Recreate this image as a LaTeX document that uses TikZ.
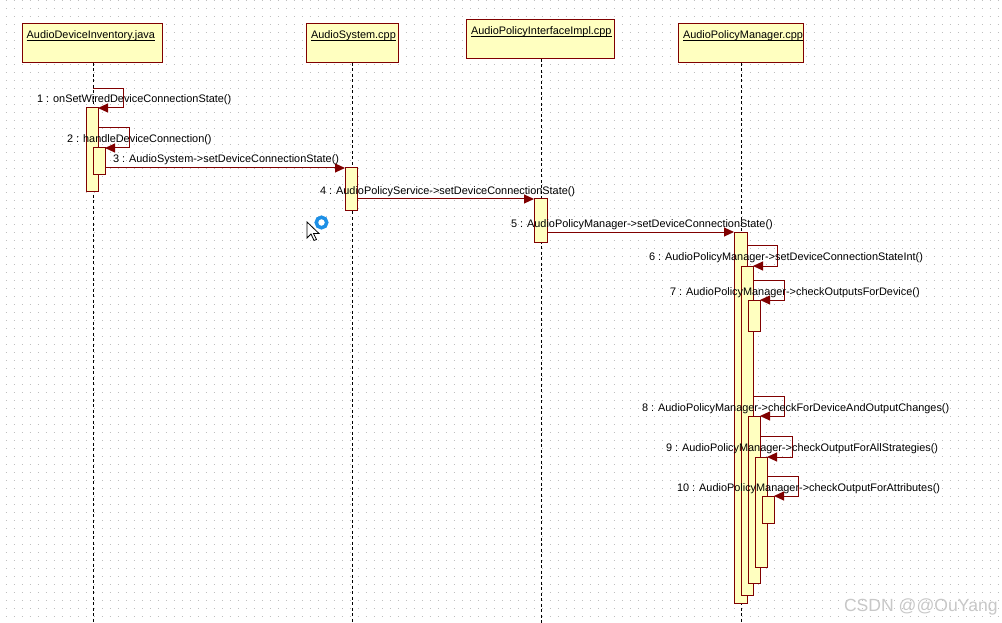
\documentclass[tikz,border=0pt]{standalone}
\usepackage{fontspec}
\setmainfont{Liberation Sans}
\usetikzlibrary{arrows.meta}
\definecolor{dred}{HTML}{800000}
\definecolor{pyel}{HTML}{FFFFC0}
\definecolor{gdot}{HTML}{BEBEBE}
\definecolor{ring}{RGB}{30,144,230}
\definecolor{wmark}{HTML}{C8C8C8}
\begin{document}
\begin{tikzpicture}[x=1pt,y=-1pt,
  every node/.style={inner sep=0pt,outer sep=0pt,font=\fontsize{10.9}{13}\selectfont},
  obj/.style={draw=dred,fill=pyel,line width=1pt,anchor=north west},
  actbar/.style={draw=dred,fill=pyel,line width=1pt,anchor=north west,minimum width=12pt},
  life/.style={black,line width=1pt,dash pattern=on 3pt off 2.5pt},
  msg/.style={dred,line width=1pt,-{Triangle[length=10pt,width=9pt]}},
  lbl/.style={anchor=base west,text=black},
  ttl/.style={anchor=base west,text=black},
  uline/.style={black,line width=0.8pt}]
\useasboundingbox (0,0) rectangle (1002,623);
\fill[white] (0,0) rectangle (1002,623);
% dotted grid
\foreach \k in {0,...,77}{
  \draw[gdot,line width=1pt,dash pattern=on 1pt off 7pt] (5.8,{0.7+8*\k}) -- (1002,{0.7+8*\k});
}
% object boxes
\node[obj,minimum width=140pt,minimum height=39pt] (o1) at (22,24) {};
\node[obj,minimum width=92pt,minimum height=39pt] (o2) at (306,24) {};
\node[obj,minimum width=148pt,minimum height=39pt] (o3) at (466,20) {};
\node[obj,minimum width=125pt,minimum height=39pt] (o4) at (678,24) {};
\node[ttl] (t1) at (26.7,39) {AudioDeviceInventory.java};
\node[ttl] (t2) at (311,39) {AudioSystem.cpp};
\node[ttl] (t3) at (471,35) {AudioPolicyInterfaceImpl.cpp};
\node[ttl] (t4) at (683,39) {AudioPolicyManager.cpp};
\foreach \t in {t1,t2,t3,t4}{
  \draw[uline] ([yshift=-1.6pt]\t.base west) -- ([yshift=-1.6pt]\t.base east);
}
% lifelines
\coordinate (e1) at (93,623);
\coordinate (e2) at (352,623);
\coordinate (e3) at (541,623);
\coordinate (e4) at (741,623);
\draw[life] (o1.south -| e1) -- (e1);
\draw[life] (o2.south -| e2) -- (e2);
\draw[life] (o3.south -| e3) -- (e3);
\draw[life] (o4.south -| e4) -- (e4);
% activation bars
\node[actbar,minimum height=84pt] (a1) at (86,108) {};
\node[actbar,minimum height=27pt] (a2) at (93,148) {};
\node[actbar,minimum height=43pt] (b1) at (345,168) {};
\node[actbar,minimum width=13pt,minimum height=43pt] (c1) at (534,199) {};
\node[actbar,minimum width=13pt,minimum height=371pt] (d1) at (734,232) {};
\node[actbar,minimum height=329pt] (d2) at (741,266) {};
\node[actbar,minimum height=31pt] (d3) at (748,300) {};
\node[actbar,minimum height=167pt] (d4) at (748,416) {};
\node[actbar,minimum height=110pt] (d5) at (755,457) {};
\node[actbar,minimum height=27pt] (d6) at (762,496) {};
% messages
\coordinate (s1) at (93,89);
\draw[msg] (s1) -- (123,89) |- (a1.north east);
\draw[msg] (a1.east |- 0,128) -- (129,128) |- (a2.north east);
\draw[msg] (a2.east |- b1.north) -- (b1.north west);
\draw[msg] (b1.east |- c1.north) -- (c1.north west);
\draw[msg] (c1.east |- d1.north) -- (d1.north west);
\draw[msg] (d1.east |- 0,245) -- (777,245) |- (d2.north east);
\draw[msg] (d2.east |- 0,280) -- (784,280) |- (d3.north east);
\draw[msg] (d2.east |- 0,396) -- (784,396) |- (d4.north east);
\draw[msg] (d4.east |- 0,436) -- (792,436) |- (d5.north east);
\draw[msg] (d5.east |- 0,476) -- (798,476) |- (d6.north east);
% labels
\node[lbl] (l1) at (37,103) {1 : onSetWiredDeviceConnectionState()};
\node[lbl] (l2) at (67,143) {2 : handleDeviceConnection()};
\node[lbl] (l3) at (113,163) {3 : AudioSystem->setDeviceConnectionState()};
\node[lbl] (l4) at (320,194) {4 : AudioPolicyService->setDeviceConnectionState()};
\node[lbl] (l5) at (511,227) {5 : AudioPolicyManager->setDeviceConnectionState()};
\node[lbl] (l6) at (649,260) {6 : AudioPolicyManager->setDeviceConnectionStateInt()};
\node[lbl] (l7) at (670,295) {7 : AudioPolicyManager->checkOutputsForDevice()};
\node[lbl] (l8) at (642,411) {8 : AudioPolicyManager->checkForDeviceAndOutputChanges()};
\node[lbl] (l9) at (666,451) {9 : AudioPolicyManager->checkOutputForAllStrategies()};
\node[lbl] (l10) at (677,491) {10 : AudioPolicyManager->checkOutputForAttributes()};
% cursor and busy ring
\draw[ring,line width=3.5pt] (321.5,222.5) circle (5.25);
\draw[black,fill=white,line width=0.8pt,line join=miter] (307,222) -- ++(0,16) -- ++(4,-4) -- ++(3,6.5) -- ++(2.5,-1) -- ++(-3,-6) -- ++(5.5,0) -- cycle;
% watermark
\node[anchor=base west,text=wmark,font=\fontsize{17.6}{20}\selectfont] (wm) at (844,611.5) {CSDN @@OuYang};
\end{tikzpicture}
\end{document}
